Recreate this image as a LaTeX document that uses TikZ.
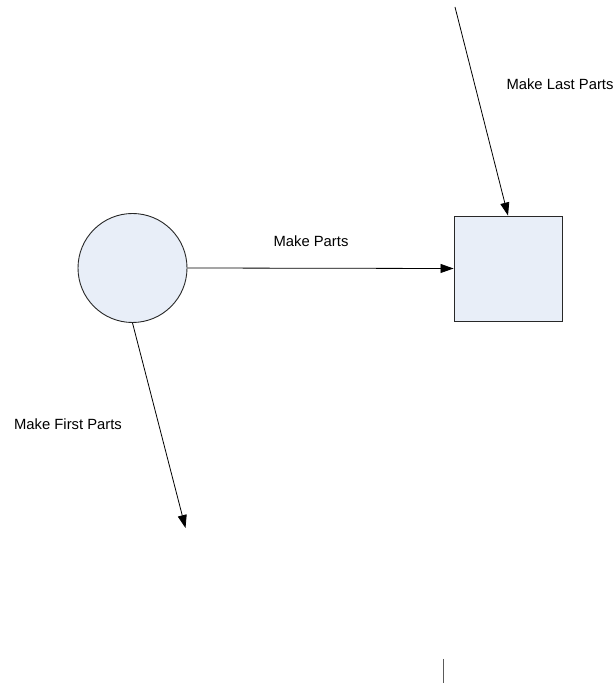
\documentclass[tikz,border=0pt]{standalone}
\usepackage{fontspec}
\setmainfont{Liberation Sans}
\usetikzlibrary{arrows.meta,positioning}
\definecolor{stfill}{RGB}{232,238,248}
\definecolor{stedge}{RGB}{40,40,40}
\definecolor{cursorgray}{RGB}{90,90,90}

\begin{document}
\begin{tikzpicture}[x=1pt, y=1pt, >={Triangle[length=13pt,width=9pt]},
    state/.style={draw=stedge, fill=stfill, line width=0.9pt, inner sep=0pt},
    flow/.style={->, line width=0.8pt},
    lbl/.style={font=\fontsize{14.8}{18}\selectfont}]
  \useasboundingbox (0,0) rectangle (614,683);
  % states
  \node[state, circle, minimum size=109pt] (start) at (132.5,415) {};
  \node[state, rectangle, minimum width=108pt, minimum height=105pt] (parts) at (508,414.5) {};
  % free ends
  \coordinate (topend) at (455,676);
  \coordinate (botend) at (185.5,155);
  % transitions
  \draw[flow] (start.east) -- (parts.west);
  \draw[flow] (topend) -- (parts.north);
  \draw[flow] (start.south) -- (botend);
  % labels
  \node[lbl] (mkparts) at (311,442) {Make Parts};
  \node[lbl] (mklast) at (560,599) {Make Last Parts};
  \node[lbl] (mkfirst) at (68,259) {Make First Parts};
  % cursor mark
  \coordinate (curtop) at (443.7,24);
  \coordinate (curbot) at (443.7,0);
  \draw[cursorgray, line width=1.4pt] (curtop) -- (curbot);
\end{tikzpicture}
\end{document}
